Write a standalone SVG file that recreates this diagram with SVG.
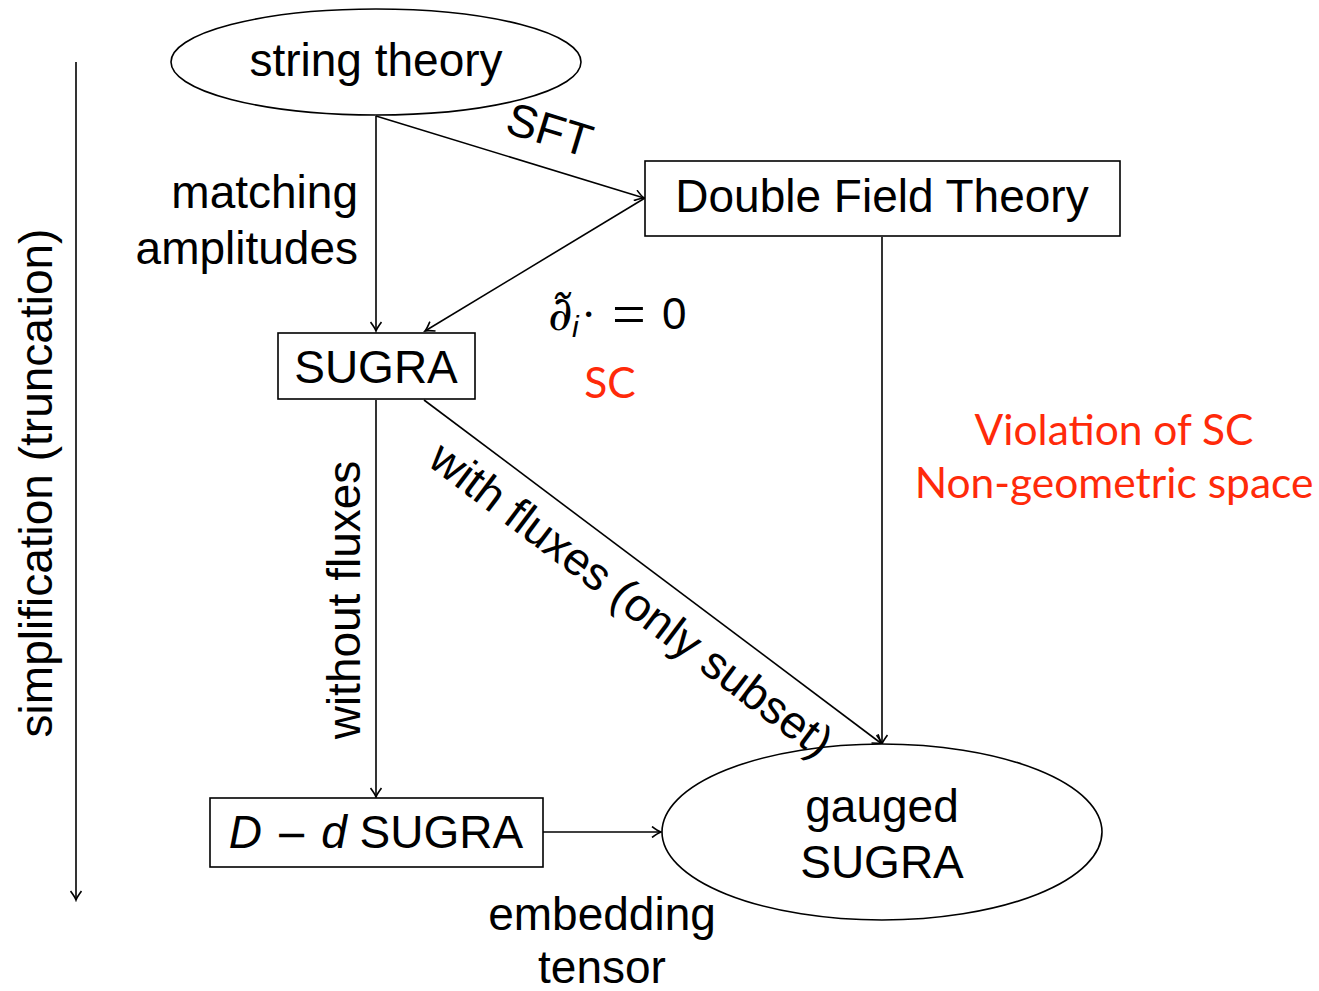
<svg xmlns="http://www.w3.org/2000/svg" width="1319" height="991" viewBox="0 0 1319 991">
<style>
.n{fill:#fff;stroke:#000;stroke-width:1.6}
.t{font-family:"Liberation Sans",Arial,sans-serif;font-size:46px;fill:#000}
.r{font-family:Lato,"Open Sans",sans-serif;font-size:42.5px;fill:#ff2a0a}
.c{fill:none;stroke:#000;stroke-width:1.6}
</style>
<defs>
<marker id="a" viewBox="-10 -6 12 12" refX="0" refY="0" markerWidth="12" markerHeight="12" markerUnits="userSpaceOnUse" orient="auto">
<path d="M-9,-5.5 Q-3,-1 0,0 Q-3,1 -9,5.5" fill="none" stroke="#000" stroke-width="1.6"/>
</marker>
</defs>
<rect width="1319" height="991" fill="#fff"/>
<g id="connectors">
<line class="c" x1="76" y1="62" x2="76" y2="900" marker-end="url(#a)"/>
<line class="c" x1="376" y1="116" x2="376" y2="331" marker-end="url(#a)"/>
<line class="c" x1="376" y1="116" x2="644" y2="198" marker-end="url(#a)"/>
<line class="c" x1="645" y1="198" x2="425" y2="331" marker-end="url(#a)"/>
<line class="c" x1="882" y1="237" x2="882" y2="744" marker-end="url(#a)"/>
<line class="c" x1="424" y1="400" x2="882" y2="744" marker-end="url(#a)"/>
<line class="c" x1="376" y1="400" x2="376" y2="797" marker-end="url(#a)"/>
<line class="c" x1="543" y1="832" x2="661" y2="832" marker-end="url(#a)"/>
</g>
<g id="string-theory">
<ellipse class="n" cx="376" cy="62" rx="205" ry="53"/>
<text class="t" x="376" y="76" text-anchor="middle">string theory</text>
</g>
<g id="dft">
<rect class="n" x="645" y="161" width="475" height="75"/>
<text class="t" x="882" y="212" text-anchor="middle">Double Field Theory</text>
</g>
<g id="sugra">
<rect class="n" x="278" y="333" width="197" height="66"/>
<text class="t" x="376" y="383" text-anchor="middle">SUGRA</text>
</g>
<g id="dd-sugra">
<rect class="n" x="210" y="798" width="333" height="69"/>
<text class="t" x="376" y="848" text-anchor="middle"><tspan font-style="italic">D</tspan> <tspan font-family="'DejaVu Sans',sans-serif" font-size="40">−</tspan> <tspan font-style="italic">d</tspan> SUGRA</text>
</g>
<g id="gauged-sugra">
<ellipse class="n" cx="882" cy="832" rx="220" ry="88"/>
<text class="t" x="882" y="822" text-anchor="middle">gauged</text>
<text class="t" x="882" y="878" text-anchor="middle">SUGRA</text>
</g>
<g id="labels">
<text class="t" transform="translate(52,483) rotate(-90)" text-anchor="middle">simplification (truncation)</text>
<text class="t" x="358" y="208" text-anchor="end">matching</text>
<text class="t" x="358" y="264" text-anchor="end">amplitudes</text>
<text class="t" transform="translate(545,145) rotate(17)" text-anchor="middle">SFT</text>
<text y="330" font-family="'DejaVu Serif',serif" font-size="48"><tspan x="548" font-style="italic">∂̃</tspan><tspan x="572" y="337" font-family="'Liberation Sans',sans-serif" font-style="italic" font-size="30">i</tspan><tspan x="581" y="330" font-family="'Liberation Serif',serif" font-size="46">·</tspan><tspan x="612" y="334" font-family="'Liberation Serif',serif" font-size="60">=</tspan><tspan x="662" y="329" font-family="'Liberation Sans',sans-serif" font-size="44">0</tspan></text>
<text class="r" x="610" y="398" text-anchor="middle">SC</text>
<text class="r" x="1114" y="445" text-anchor="middle">Violation of SC</text>
<text class="r" x="1114" y="498" text-anchor="middle">Non-geometric space</text>
<text class="t" transform="translate(360,600) rotate(-90)" text-anchor="middle">without fluxes</text>
<text class="t" transform="translate(622,612) rotate(37)" text-anchor="middle">with fluxes (only subset)</text>
<text class="t" x="602" y="930" text-anchor="middle">embedding</text>
<text class="t" x="602" y="983" text-anchor="middle">tensor</text>
</g>
</svg>
